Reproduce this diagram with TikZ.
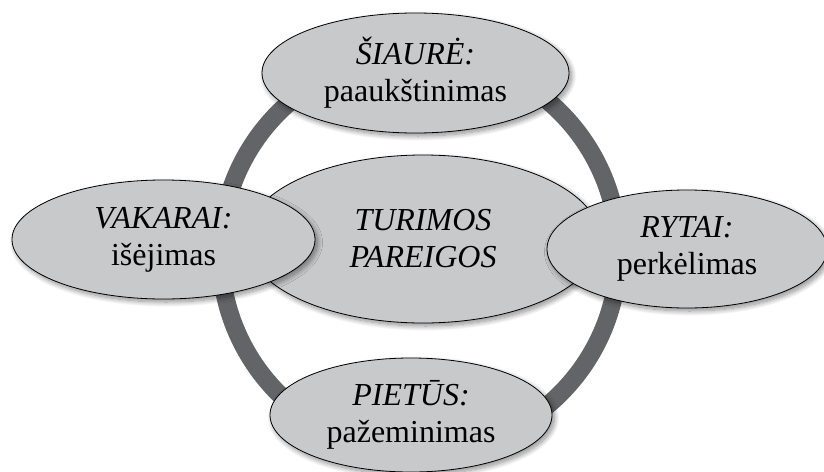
\documentclass[tikz,border=0pt]{standalone}
\usepackage{fontspec}
\setmainfont{Liberation Serif}
\usetikzlibrary{shapes.geometric,shadows.blur}
\definecolor{ringgray}{HTML}{636467}
\definecolor{ellgray}{HTML}{C8C9CB}
\tikzset{
  bubble/.style={ellipse, draw=black, line width=0.8pt, fill=ellgray,
    inner sep=0pt, align=center, font=\fontsize{32}{37}\selectfont,
    blur shadow={shadow xshift=2.5pt, shadow yshift=-3pt, shadow blur radius=5pt, shadow blur steps=12, shadow opacity=45}},
  ringline/.style={draw=ringgray, line width=18pt}
}
\begin{document}
\begin{tikzpicture}[x=1pt,y=-1pt]
\useasboundingbox (0,0) rectangle (824,471);
\coordinate (rc) at (419.5,253);
\draw[ringline] (rc) circle[radius=199pt];
\node[bubble, minimum width=354pt, minimum height=168pt] (center) at (423,239) {\textit{TURIMOS}\\\textit{PAREIGOS}};
\node[bubble, minimum width=307pt, minimum height=120pt] (north) at (415.5,73) {\textit{ŠIAURĖ:}\\paaukštinimas};
\node[bubble, minimum width=303pt, minimum height=119pt] (west) at (163.5,239.5) {\textit{VAKARAI:}\\išėjimas};
\node[bubble, minimum width=280pt, minimum height=118pt] (east) at (687,249) {\textit{RYTAI:}\\perkėlimas};
\node[bubble, minimum width=282pt, minimum height=114pt] (south) at (411,415) {\textit{PIETŪS:}\\pažeminimas};
\end{tikzpicture}
\end{document}
